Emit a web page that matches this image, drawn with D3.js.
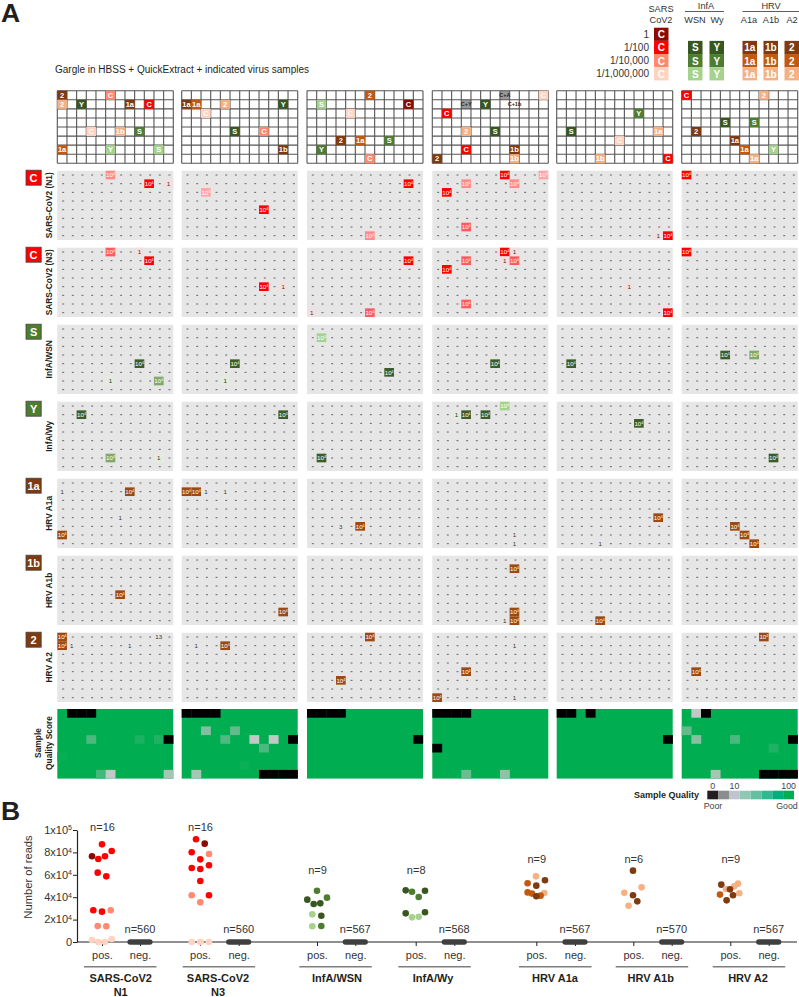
<!DOCTYPE html>
<html>
<head>
<meta charset="utf-8">
<style>
  html, body { margin: 0; padding: 0; background: #fff; }
  svg { display: block; }
  text { font-family: "Liberation Sans", Arial, sans-serif; }
</style>
<script src="https://cdn.jsdelivr.net/npm/d3@7/dist/d3.min.js"></script>
</head>
<body>
<svg id="chart" width="799" height="997"></svg>
<script>
// ---- data ----
const dilutions = ["1", "1/100", "1/10,000", "1/1,000,000"];
const legendViruses = ["C", "S", "Y", "1a", "1b", "2"];
const assays = ["SARS-CoV2 (N1)", "SARS-CoV2 (N3)", "InfA/WSN", "InfA/Wy", "HRV A1a", "HRV A1b", "HRV A2"];
const assayIcons = ["C", "C", "S", "Y", "1a", "1b", "2"];

// plate maps: [row, col, label, dilution tier]
const plate1 = [[0,0,"2",1],[0,5,"C",2],[1,0,"2",3],[1,2,"Y",1],[1,7,"1a",1],[1,9,"C",1],[4,3,"C",3],[4,6,"1b",3],[4,8,"S",2],[6,0,"1a",2],[6,5,"Y",3],[6,10,"S",3]];
const plate2 = [[1,0,"1a",1],[1,1,"1a",2],[1,4,"2",3],[1,10,"Y",1],[2,2,"C",3],[4,5,"S",1],[4,8,"C",2],[6,10,"1b",1]];
const plate3 = [[0,6,"2",2],[1,10,"C",0],[1,1,"S",3],[2,4,"C",3],[5,3,"2",1],[5,5,"1a",2],[5,8,"S",2],[6,1,"Y",2],[7,6,"C",2]];
const plate4 = [[0,11,"C",3],[1,5,"Y",1],[2,1,"C",1],[4,3,"2",3],[4,6,"S",1],[6,3,"C",1],[6,8,"1b",1],[7,0,"2",1],[7,8,"1b",3]];
const plate5 = [[2,8,"Y",2],[4,1,"S",1],[4,10,"1a",3],[5,6,"C",3],[7,4,"1b",3],[7,11,"C",1]];
const plate6 = [[0,0,"C",1],[0,8,"2",3],[3,4,"S",1],[3,7,"S",2],[4,1,"2",1],[5,5,"1a",1],[6,6,"1a",2],[6,9,"Y",3],[7,7,"1a",3]];
const plates = [plate1, plate2, plate3, plate4, plate5, plate6];
// coinfected wells on plate 4
const mixWells = [[0,7,"C+A",true],[1,3,"C+Y",true],[1,8,"C+1b",false]];

// reads per well: [plate, row, col, reads, tone]
const hitsN1 = [[0,0,5,1e4,2],[0,1,9,1e4,0],[0,1,11,1,0],[1,2,2,1e3,3],[1,4,8,1e4,0],[2,7,6,1e4,2],[2,1,10,1e4,0],[3,0,7,1e4,0],[3,0,11,1e3,3],[3,1,3,1e4,2],[3,1,8,1e4,2],[3,2,1,1e4,0],[3,6,3,1e4,1],[4,7,10,1,0],[4,7,11,1e4,0],[5,0,0,1e4,0]];
const hitsN3 = [[0,0,5,1e4,1],[0,0,8,1,0],[0,1,9,1e4,0],[1,4,8,1e4,0],[1,4,10,1,0],[2,7,0,1,0],[2,7,6,1e4,1],[2,1,10,1e4,0],[3,0,7,1e4,0],[3,0,8,1,0],[3,1,3,1e4,1],[3,1,7,1,0],[3,1,8,1e4,1],[3,2,1,1e4,0],[3,6,3,1e4,1],[4,4,7,1,0],[4,7,11,1e4,0],[5,0,0,1e4,0]];
const hitsWSN = [[0,4,8,1e4,0],[0,6,5,1,0],[0,6,10,1e4,1],[1,4,5,1e4,0],[1,6,4,1,0],[2,1,1,1e4,2],[2,5,8,1e4,0],[3,4,6,1e4,0],[4,4,1,1e4,0],[5,3,4,1e4,0],[5,3,7,1e4,1]];
const hitsWy = [[0,1,2,1e4,0],[0,6,5,1e4,1],[0,6,10,1,0],[1,1,10,1e4,0],[2,6,1,1e4,0],[3,0,7,1e4,2],[3,1,2,1,0],[3,1,3,1e4,0],[3,1,5,1e4,0],[4,2,8,1e4,0],[5,6,9,1e4,0]];
const hitsA1a = [[0,1,0,1,0],[0,1,7,1e4,0],[0,4,6,1,0],[0,6,0,1e4,0],[1,1,0,1e4,0],[1,1,1,1e4,0],[1,1,2,1,0],[1,1,4,1,0],[2,5,3,3,0],[2,5,5,1e4,0],[3,6,8,1,0],[3,7,8,1,0],[4,4,10,1e4,0],[4,7,4,1,0],[5,5,5,1e4,0],[5,6,6,1e4,0],[5,7,7,1e4,0]];
const hitsA1b = [[0,4,6,1e4,0],[1,6,10,1e4,0],[3,1,8,1e4,0],[3,6,8,1e4,0],[3,7,7,1,0],[3,7,8,1e4,0],[4,7,4,1e4,0]];
const hitsA2 = [[0,0,0,1e4,0],[0,1,0,1e4,0],[0,1,1,1,0],[0,1,7,1,0],[0,0,10,13,0],[1,1,1,1,0],[1,1,4,1e4,0],[2,0,6,1e4,0],[2,5,3,1e4,0],[3,1,8,1,0],[3,4,3,1e4,0],[3,7,0,1e4,0],[3,7,8,1,0],[5,0,8,1e4,0],[5,4,1,1e4,0]];
const assayHits = [hitsN1, hitsN3, hitsWSN, hitsWy, hitsA1a, hitsA1b, hitsA2];

// sample quality, only the wells that are not 100: [plate, row, col, score]
const qualityCells = [
  [0,0,1,0],[0,0,2,0],[0,0,3,0],[0,3,3,65],[0,3,8,88],[0,3,10,85],[0,3,11,0],[0,5,0,97],[0,7,4,68],[0,7,5,10],[0,7,11,22],
  [1,0,0,0],[1,0,1,0],[1,0,2,0],[1,0,3,0],[1,2,2,40],[1,2,5,55],[1,3,4,62],[1,3,7,10],[1,3,9,10],[1,3,11,0],[1,4,8,65],[1,6,6,95],[1,7,1,22],[1,7,8,0],[1,7,9,0],[1,7,10,0],[1,7,11,0],
  [2,0,0,0],[2,0,1,0],[2,0,2,0],[2,0,3,0],[2,3,11,0],
  [3,0,0,0],[3,0,1,0],[3,0,2,0],[3,0,3,0],[3,4,0,0],[3,7,3,50],[3,7,7,32],
  [4,0,0,0],[4,0,1,0],[4,0,3,0],[4,3,11,0],
  [5,0,1,10],[5,0,2,0],[5,2,0,55],[5,3,1,38],[5,3,5,65],[5,3,11,0],[5,4,9,85],[5,7,3,22],[5,7,8,0],[5,7,9,0],[5,7,10,0],[5,7,11,0]
];
const qualityLegendLabels = [["0", 0.5], ["10", 2.5], ["100", 7.5]];

// panel B: reads per positive sample, and where each dot sits in the swarm
const groupNames = [["SARS-CoV2", "N1"], ["SARS-CoV2", "N3"], ["InfA/WSN"], ["InfA/Wy"], ["HRV A1a"], ["HRV A1b"], ["HRV A2"]];
const readsN1 = [87200,81250,76500,74100,76500,61900,58600,28300,27100,28300,14300,14000,1800,0,0,2700];
const swarmN1 = [0,9.7,3,-3.7,-10,-4.3,4.3,-8.7,0,8.7,-4.3,4.3,-10,-3.7,3,9.7];
const tierN1 = [1,1,1,1,0,1,1,1,1,2,2,2,3,3,3,3];
const readsN3 = [91700,87800,80100,78600,73800,66100,65200,68500,54500,41700,41700,35400,0,0,0,0];
const swarmN3 = [-4,4.7,-8.3,9,0.3,-8.3,0.3,9,0.3,-8.3,9,0.3,-8.3,0.3,9,0.3];
const tierN3 = [1,0,1,2,1,1,1,1,1,2,1,2,3,3,3,3];
const readsWSN = [45800,37800,33900,34500,39600,24700,23500,14000,14300];
const swarmWSN = [0,-9.7,-3.3,3.3,10,-4.7,4.3,-4.7,4.3];
const tierWSN = [2,1,1,1,2,3,1,3,2];
const readsWy = [46100,44900,45800,40200,25600,26500,22000,22600];
const swarmWy = [-10,-3.7,9.3,3,-10,9.3,-3.7,3];
const tierWy = [1,2,1,2,1,1,3,3];
const readsA1a = [58600,55100,52400,50300,44300,43200,43800,41400,40800];
const swarmA1a = [-0.3,8.7,-8.7,0,-8.7,-4.3,8,4.3,0];
const tierA1a = [3,1,2,1,2,2,3,2,1];
const readsA1b = [63700,48800,44000,41700,36300,32400];
const swarmA1b = [-0.3,8.3,-9,-0.3,4,-4.7];
const tierA1b = [1,3,3,1,1,3];
const readsA2 = [51200,52100,49700,47300,47000,43500,42300,41700,37200];
const swarmA2 = [-9,7.7,4,-4.3,-0.3,9,-10.3,2.7,-3.7];
const tierA2 = [1,3,3,3,1,3,2,1,1];
const posCounts = [16,16,9,8,9,6,9];
const negCounts = [560,560,567,568,567,570,567];
const yTicks = [0,2e4,4e4,6e4,8e4,1e5];

// ---- styling ----
const ramps = {
  C: ["#8b0a00", "#ff0000", "#ff8a70", "#ffd3c0"],
  S: [null, "#38571f", "#4e7d2f", "#a5d38d"],
  B: [null, "#7f3a10", "#c2590e", "#f6b183"]
};
function rampFor(label) {
  if (label === "C") return ramps.C;
  if (label === "S" || label === "Y") return ramps.S;
  return ramps.B;
}
const hitRamp = {
  C: ["#ff0000", "#ff5a60", "#ff8a8a", "#ffa5a5"],
  S: ["#3d5c27", "#7fa96a", "#a5d38d"],
  B: ["#9c4a14"]
};
const hitTint = { C: "#f2dfdf", S: "#e4ebdf", B: "#e6e6e6" };
const qualityLegendColors = ["#231f20", "#8a8c8e", "#c0c4cf", "#8fc9b5", "#63bfa0", "#2fb98e", "#00b07a", "#00ad50"];
const dark = "#231f20";

const svg = d3.select("#chart");

// panel left edges
const panelLeft = [57.3, 181.7, 307, 432.3, 556.7, 681.7];
const panelW = 116;
const xScales = panelLeft.map(function(x0) {
  return d3.scaleBand().domain(d3.range(12)).range([x0, x0 + panelW]);
});
function rowScale(top, h) {
  return d3.scaleBand().domain(d3.range(8)).range([top, top + h]);
}

// panel letters + caption
svg.append("text").attr("x", 1).attr("y", 22).attr("font-size", 26.5).attr("font-weight", "bold").attr("fill", dark).text("A");
svg.append("text").attr("x", 1).attr("y", 820).attr("font-size", 26.5).attr("font-weight", "bold").attr("fill", dark).text("B");
svg.append("text").attr("x", 55).attr("y", 73).attr("font-size", 10).attr("fill", dark)
  .text("Gargle in HBSS + QuickExtract + indicated virus samples");

// ---- dilution legend, top right ----
const legend = svg.append("g");
const legendX = d3.scaleOrdinal().domain(legendViruses).range([654, 688, 709.5, 742.5, 763.5, 784.5]);
const legendY = d3.scaleBand().domain(d3.range(4)).range([27.7, 80.4]);
function headText(x, y, s) {
  legend.append("text").attr("x", x).attr("y", y).attr("text-anchor", "middle")
    .attr("font-size", 9.2).attr("fill", "#333").text(s);
}
headText(661, 12, "SARS");
headText(661, 23, "CoV2");
headText(706, 8.6, "InfA");
headText(771, 8.6, "HRV");
headText(695, 23, "WSN");
headText(717, 23, "Wy");
headText(749, 23, "A1a");
headText(771, 23, "A1b");
headText(792, 23, "A2");
[[685, 724], [742.5, 799]].forEach(function(d) {
  legend.append("line").attr("x1", d[0]).attr("x2", d[1]).attr("y1", 11.5).attr("y2", 11.5)
    .attr("stroke", "#333").attr("stroke-width", 0.8);
});
dilutions.forEach(function(d, i) {
  legend.append("text").attr("x", 649).attr("y", legendY(i) + 10).attr("text-anchor", "end")
    .attr("font-size", 10).attr("fill", "#333").text(d);
});
legendViruses.forEach(function(v) {
  const ramp = rampFor(v);
  d3.range(4).forEach(function(tier) {
    if (!ramp[tier]) return;
    legend.append("rect").attr("x", legendX(v)).attr("y", legendY(tier))
      .attr("width", 14.5).attr("height", legendY.bandwidth()).attr("fill", ramp[tier]);
    legend.append("text").attr("x", legendX(v) + 7.25).attr("y", legendY(tier) + 10.5)
      .attr("text-anchor", "middle").attr("font-size", 10).attr("font-weight", "bold")
      .attr("fill", "#fff").text(v);
  });
});

// ---- plate maps ----
const plateY = rowScale(90.7, 72.6);
plates.forEach(function(wells, p) {
  const x = xScales[p];
  const g = svg.append("g");
  g.append("rect").attr("x", panelLeft[p]).attr("y", 90.7).attr("width", panelW).attr("height", 72.6)
    .attr("fill", "#fff");
  if (p === 3) {
    g.selectAll(".mix").data(mixWells).enter().append("rect")
      .attr("x", function(d) { return x(d[1]); })
      .attr("y", function(d) { return plateY(d[0]); })
      .attr("width", x.bandwidth()).attr("height", plateY.bandwidth())
      .attr("fill", function(d) { return d[3] ? "#9a9a9a" : "#fff"; });
  }
  d3.range(13).forEach(function(i) {
    const px = panelLeft[p] + i * x.bandwidth();
    g.append("line").attr("x1", px).attr("x2", px).attr("y1", 90.7).attr("y2", 163.3)
      .attr("stroke", "#555").attr("stroke-width", 1.1);
  });
  d3.range(9).forEach(function(i) {
    const py = 90.7 + i * plateY.bandwidth();
    g.append("line").attr("x1", panelLeft[p]).attr("x2", panelLeft[p] + panelW).attr("y1", py).attr("y2", py)
      .attr("stroke", "#555").attr("stroke-width", 1.1);
  });
  g.selectAll(".well").data(wells).enter().append("rect")
    .attr("x", function(d) { return x(d[1]); })
    .attr("y", function(d) { return plateY(d[0]); })
    .attr("width", x.bandwidth()).attr("height", plateY.bandwidth())
    .attr("fill", function(d) { return rampFor(d[2])[d[3]]; });
  g.selectAll(".wellText").data(wells).enter().append("text")
    .attr("x", function(d) { return x(d[1]) + x.bandwidth() / 2; })
    .attr("y", function(d) { return plateY(d[0]) + 7; })
    .attr("text-anchor", "middle").attr("font-size", 7.5).attr("font-weight", "bold")
    .attr("fill", "#fff")
    .text(function(d) { return d[2]; });
  if (p === 3) {
    g.selectAll(".mixText").data(mixWells).enter().append("text")
      .attr("x", function(d) { return x(d[1]) + x.bandwidth() / 2; })
      .attr("y", function(d) { return plateY(d[0]) + 6.6; })
      .attr("text-anchor", "middle").attr("font-size", 5.5).attr("font-weight", "bold")
      .attr("fill", dark).text(function(d) { return d[2]; });
  }
});

// ---- one row of read-count panels per assay ----
function iconColor(label) {
  if (label === "C") return "#ff0000";
  if (label === "S" || label === "Y") return "#4e7d2f";
  return "#7f3a10";
}
function assayKey(label) {
  if (label === "C") return "C";
  if (label === "S" || label === "Y") return "S";
  return "B";
}
function readLabel(sel) {
  sel.each(function(d) {
    const t = d3.select(this);
    if (d[3] < 100) { t.text(d[3]); return; }
    t.append("tspan").text("10");
    t.append("tspan").attr("dy", -2).attr("font-size", 3.6).text(Math.round(Math.log10(d[3])));
  });
}
assays.forEach(function(name, a) {
  const top = 170.7 + 77 * a;
  const y = rowScale(top, 69.3);
  const g = svg.append("g");
  const key = assayKey(assayIcons[a]);

  // icon + row title
  g.append("rect").attr("x", 26).attr("y", top - 0.5).attr("width", 15.2).attr("height", 15)
    .attr("fill", iconColor(assayIcons[a])).attr("stroke", "#444").attr("stroke-width", 0.8);
  g.append("text").attr("x", 33.6).attr("y", top + 10.8).attr("text-anchor", "middle")
    .attr("font-size", 11).attr("font-weight", "bold").attr("fill", "#fff").text(assayIcons[a]);
  g.append("text").attr("transform", "translate(52," + (top + 34.6) + ") rotate(-90)")
    .attr("text-anchor", "middle").attr("font-size", 8.4).attr("font-weight", "bold").attr("fill", dark)
    .text(name);

  panelLeft.forEach(function(x0, p) {
    const x = xScales[p];
    const pg = g.append("g");
    pg.append("rect").attr("x", x0).attr("y", top).attr("width", panelW).attr("height", 69.3).attr("fill", "#e6e6e6");
    // a dash in every well, the hits are drawn over them
    const wells = d3.cross(d3.range(8), d3.range(12));
    pg.selectAll(".dash").data(wells).enter().append("rect")
      .attr("x", function(d) { return x(d[1]) + x.bandwidth() / 2; })
      .attr("y", function(d) { return y(d[0]) + y.bandwidth() / 2 - 0.5; })
      .attr("width", 2).attr("height", 1).attr("fill", "#666");

    // drop the plate index, leaves [row, col, tone, reads]
    const hits = assayHits[a].filter(function(d) { return d[0] === p; })
      .map(function(d) { return [d[1], d[2], d[4], d[3]]; });
    pg.selectAll(".hit").data(hits).enter().append("rect")
      .attr("x", function(d) { return x(d[1]); })
      .attr("y", function(d) { return y(d[0]); })
      .attr("width", x.bandwidth()).attr("height", y.bandwidth())
      .attr("fill", function(d) { return d[3] < 100 ? hitTint[key] : hitRamp[key][d[2]]; });
    pg.selectAll(".hitText").data(hits).enter().append("text")
      .attr("x", function(d) { return x(d[1]) + x.bandwidth() / 2; })
      .attr("y", function(d) { return y(d[0]) + y.bandwidth() / 2 + 2.2; })
      .attr("text-anchor", "middle")
      .attr("font-size", 6.2)
      .attr("fill", function(d) { return d[3] < 100 ? "#333" : "#fff"; })
      .call(readLabel);
  });
});

// ---- sample quality row ----
const qualityTop = 709;
const qualityY = rowScale(qualityTop, 69.6);
const qualityColor = d3.scaleLinear().domain([0, 10, 100]).range(["#000000", "#c2c8c5", "#00ad50"]);
panelLeft.forEach(function(x0, p) {
  const x = xScales[p];
  const g = svg.append("g");
  g.append("rect").attr("x", x0).attr("y", qualityTop).attr("width", panelW).attr("height", 69.6)
    .attr("fill", qualityColor(100));
  g.selectAll("rect.q").data(qualityCells.filter(function(d) { return d[0] === p; })).enter().append("rect")
    .attr("class", "q")
    .attr("x", function(d) { return x(d[2]); })
    .attr("y", function(d) { return qualityY(d[1]); })
    .attr("width", x.bandwidth() + 0.2).attr("height", qualityY.bandwidth())
    .attr("fill", function(d) { return qualityColor(d[3]); });
});
[["Sample", 41], ["Quality Score", 52]].forEach(function(d) {
  svg.append("text").attr("transform", "translate(" + d[1] + ",743) rotate(-90)")
    .attr("text-anchor", "middle").attr("font-size", 8.4).attr("font-weight", "bold").attr("fill", dark).text(d[0]);
});

// quality legend
const qx = d3.scaleBand().domain(d3.range(8)).range([707.3, 794]);
svg.selectAll("rect.ql").data(qualityLegendColors).enter().append("rect")
  .attr("class", "ql")
  .attr("x", function(d, i) { return qx(i); }).attr("y", 790.7)
  .attr("width", qx.bandwidth()).attr("height", 8.6)
  .attr("fill", function(d) { return d; });
qualityLegendLabels.forEach(function(d) {
  svg.append("text").attr("x", qx(0) + d[1] * qx.bandwidth()).attr("y", 789).attr("text-anchor", "middle")
    .attr("font-size", 8.8).attr("fill", "#444").text(d[0]);
});
svg.append("text").attr("x", 699).attr("y", 798).attr("text-anchor", "end")
  .attr("font-size", 9).attr("font-weight", "bold").attr("fill", dark).text("Sample Quality");
svg.append("text").attr("x", 713).attr("y", 809).attr("text-anchor", "middle")
  .attr("font-size", 8.8).attr("fill", "#444").text("Poor");
svg.append("text").attr("x", 787).attr("y", 809).attr("text-anchor", "middle")
  .attr("font-size", 8.8).attr("fill", "#444").text("Good");

// ---- panel B ----
const yReads = d3.scaleLinear().domain([0, 1e5]).range([942, 830]);
const posX = [102, 200, 317, 415.7, 536.3, 633.3, 730.3];
const negX = [140, 238.7, 355.3, 454.3, 575, 671.7, 768.7];
const tickKeys = [];
const tickPos = [];
posX.forEach(function(d, i) {
  tickKeys.push("p" + i, "n" + i);
  tickPos.push(d, negX[i]);
});
const xTick = d3.scaleOrdinal().domain(tickKeys).range(tickPos);
const plotB = svg.append("g");

const xAxisB = plotB.append("g").attr("transform", "translate(0,942)")
  .call(d3.axisBottom(xTick).tickSize(4).tickSizeOuter(0).tickFormat(function(k) { return k[0] === "p" ? "pos." : "neg."; }));
xAxisB.select(".domain").remove();
xAxisB.selectAll("line").attr("stroke", "#222").attr("stroke-width", 1);
xAxisB.selectAll("text").attr("font-size", 11).attr("font-family", "Liberation Sans").attr("fill", "#333").attr("y", 9.5).attr("dy", "0.71em");

plotB.append("line").attr("x1", 77).attr("x2", 797).attr("y1", 942).attr("y2", 942)
  .attr("stroke", "#222").attr("stroke-width", 1.2);

const yAxisB = plotB.append("g").attr("transform", "translate(77,0)")
  .call(d3.axisLeft(yReads).tickValues(yTicks).tickSize(4).tickSizeOuter(0).tickFormat(""));
yAxisB.selectAll("line").attr("stroke", "#222");
yAxisB.select(".domain").attr("stroke", "#222").attr("stroke-width", 1.2);
yTicks.forEach(function(v) {
  const t = plotB.append("text").attr("x", 72).attr("y", yReads(v) + 3.8).attr("text-anchor", "end")
    .attr("font-size", 11).attr("fill", "#333");
  if (v === 0) { t.text("0"); return; }
  const e = Math.floor(Math.log10(v));
  t.append("tspan").text((v / Math.pow(10, e)) + "x10");
  t.append("tspan").attr("dy", -3.5).attr("font-size", 7).text(e);
});
plotB.append("text").attr("transform", "translate(32,877) rotate(-90)").attr("text-anchor", "middle")
  .attr("font-size", 11.2).attr("fill", "#333").text("Number of reads");

const dotSets = [
  { reads: readsN1, swarm: swarmN1, tier: tierN1, ramp: ramps.C },
  { reads: readsN3, swarm: swarmN3, tier: tierN3, ramp: ramps.C },
  { reads: readsWSN, swarm: swarmWSN, tier: tierWSN, ramp: ramps.S },
  { reads: readsWy, swarm: swarmWy, tier: tierWy, ramp: ramps.S },
  { reads: readsA1a, swarm: swarmA1a, tier: tierA1a, ramp: ramps.B },
  { reads: readsA1b, swarm: swarmA1b, tier: tierA1b, ramp: ramps.B },
  { reads: readsA2, swarm: swarmA2, tier: tierA2, ramp: ramps.B }
];
const posLabelY = [831, 831, 874, 874, 862.7, 862.7, 862.7];
const groupMid = [120.7, 218, 337, 433, 555, 650.7, 748];
dotSets.forEach(function(set, i) {
  const order = d3.range(set.reads.length);
  plotB.append("g").selectAll("circle").data(order).enter().append("circle")
    .attr("cx", function(j) { return posX[i] + set.swarm[j]; })
    .attr("cy", function(j) { return yReads(set.reads[j]); })
    .attr("r", 3.3)
    .attr("fill", function(j) { return set.ramp[set.tier[j]]; });

  // negatives all sit on zero and merge into one bar
  plotB.append("line").attr("x1", negX[i] - 9.8).attr("x2", negX[i] + 9.8)
    .attr("y1", yReads(0)).attr("y2", yReads(0))
    .attr("stroke", "#3f3f3f").attr("stroke-width", 5.6).attr("stroke-linecap", "round");

  plotB.append("text").attr("x", posX[i] + 0.5).attr("y", posLabelY[i]).attr("text-anchor", "middle")
    .attr("font-size", 11).attr("fill", "#333").text("n=" + posCounts[i]);
  plotB.append("text").attr("x", negX[i]).attr("y", 933).attr("text-anchor", "middle")
    .attr("font-size", 11).attr("fill", "#333").text("n=" + negCounts[i]);

  plotB.append("line").attr("x1", negX[i] - 56).attr("x2", negX[i] + 16.5).attr("y1", 966.7).attr("y2", 966.7)
    .attr("stroke", "#7f7f7f").attr("stroke-width", 1.6);
  groupNames[i].forEach(function(s, k) {
    plotB.append("text").attr("x", groupMid[i]).attr("y", 982 + k * 13.5).attr("text-anchor", "middle")
      .attr("font-size", 11).attr("font-weight", "bold").attr("fill", dark).text(s);
  });
});
</script>
</body>
</html>
